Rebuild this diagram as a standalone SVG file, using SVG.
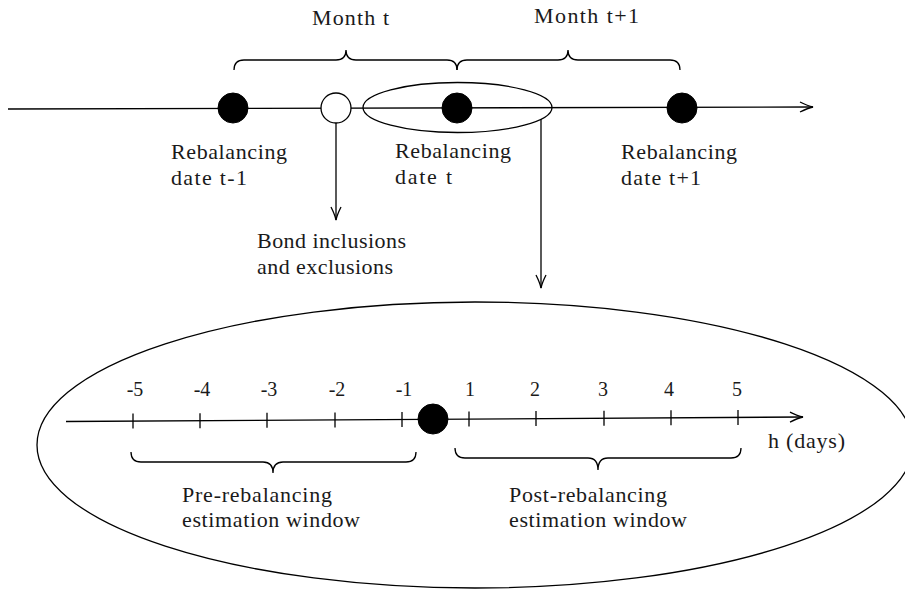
<svg xmlns="http://www.w3.org/2000/svg" width="905" height="592" viewBox="0 0 905 592">
<style>
.ln{fill:none;stroke:#000;stroke-width:1.3}
.dot{fill:#000;stroke:#000;stroke-width:1}
.t{font-family:'Liberation Serif','DejaVu Serif',serif;font-size:22px;fill:#1a1a1a}
.n{font-family:'Liberation Serif','DejaVu Serif',serif;font-size:20px;fill:#1a1a1a;text-anchor:middle}
</style>
<defs>
<marker id="arr" markerUnits="userSpaceOnUse" markerWidth="16" markerHeight="14" refX="0" refY="0" viewBox="-14 -7 16 14" orient="auto" overflow="visible">
<path d="M-13,-5 Q-5,-1 0,0 Q-5,1 -13,5" fill="none" stroke="#000" stroke-width="1.3"/>
</marker>
</defs>
<g id="connectors">
<path class="ln" d="M8,109 L813,107" marker-end="url(#arr)"/>
<path class="ln" d="M336,123 L336,220" marker-end="url(#arr)"/>
<path class="ln" d="M541,119 L541,288" marker-end="url(#arr)"/>
<path class="ln" d="M66,421.5 L803,417" marker-end="url(#arr)"/>
</g>
<g id="brace-month-t">
<path class="ln" d="M234,70 Q234,60 244,60 L336,60 Q346,60 346,50 Q346,60 356,60 L447,60 Q457,60 457,70"/>
<text class="t" x="312" y="25" textLength="77">Month t</text>
</g>
<g id="brace-month-t1">
<path class="ln" d="M457,70 Q457,60 467,60 L558,60 Q568,60 568,50 Q568,60 578,60 L670,60 Q680,60 680,70"/>
<text class="t" x="534" y="23" textLength="105">Month t+1</text>
</g>
<g id="rebal-t-1">
<circle class="dot" cx="233" cy="108" r="15"/>
<text class="t" x="171" y="159" textLength="116">Rebalancing</text>
<text class="t" x="171" y="185" textLength="76">date t-1</text>
</g>
<g id="inclusions">
<circle cx="336" cy="108" r="15" fill="#fff" stroke="#000" stroke-width="1.3"/>
<text class="t" x="257" y="248" textLength="149">Bond inclusions</text>
<text class="t" x="257" y="274" textLength="136">and exclusions</text>
</g>
<g id="rebal-t">
<ellipse class="ln" cx="457.5" cy="107.5" rx="94.5" ry="25"/>
<circle class="dot" cx="457" cy="108" r="15"/>
<text class="t" x="395" y="158" textLength="116">Rebalancing</text>
<text class="t" x="395" y="184" textLength="57">date t</text>
</g>
<g id="rebal-t1">
<circle class="dot" cx="682" cy="108" r="15"/>
<text class="t" x="621" y="159" textLength="116">Rebalancing</text>
<text class="t" x="621" y="185" textLength="80">date t+1</text>
</g>
<g id="zoom-window">
<ellipse class="ln" cx="475" cy="445" rx="438" ry="143"/>
<g id="ticks">
<path class="ln" d="M133,413.6 v15 M200,413.2 v15 M267,412.8 v15 M335,412.4 v15 M402,411.9 v15 M469,411.5 v15 M536,411.1 v15 M604,410.7 v15 M671,410.3 v15 M738,409.9 v15"/>
</g>
<text class="n" x="135" y="396">-5</text>
<text class="n" x="202" y="396">-4</text>
<text class="n" x="269" y="396">-3</text>
<text class="n" x="337" y="396">-2</text>
<text class="n" x="404" y="396">-1</text>
<text class="n" x="470" y="396">1</text>
<text class="n" x="535" y="396">2</text>
<text class="n" x="603" y="396">3</text>
<text class="n" x="669" y="396">4</text>
<text class="n" x="737" y="396">5</text>
<circle class="dot" cx="433" cy="419" r="15"/>
<text class="t" x="768" y="448" textLength="77">h (days)</text>
</g>
<g id="pre-window">
<path class="ln" d="M131,452 Q131,462 141,462 L263,462 Q273,462 273,473 Q273,462 283,462 L406,462 Q416,462 416,452"/>
<text class="t" x="182" y="502" textLength="150">Pre-rebalancing</text>
<text class="t" x="182" y="527" textLength="178">estimation window</text>
</g>
<g id="post-window">
<path class="ln" d="M455,448 Q455,458 465,458 L588,458 Q598,458 598,470 Q598,458 608,458 L731,458 Q741,458 741,448"/>
<text class="t" x="509" y="502" textLength="158">Post-rebalancing</text>
<text class="t" x="509" y="527" textLength="178">estimation window</text>
</g>
</svg>
